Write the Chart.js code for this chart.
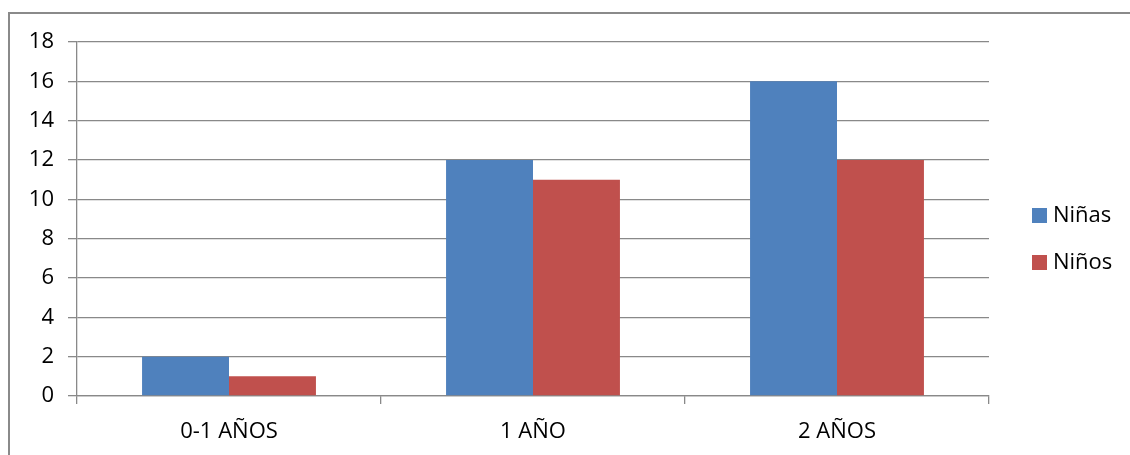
<!DOCTYPE html>
<html><head><meta charset="utf-8">
<script src="https://cdn.jsdelivr.net/npm/chart.js@4/dist/chart.umd.min.js"></script>
<style>
html,body{margin:0;padding:0;background:#fff;overflow:hidden;}
#wrap{position:absolute;left:0;top:0;width:1130px;height:455px;}
#frame{position:absolute;left:8px;top:12px;width:1200px;height:600px;border-left:2px solid #8a8a8a;border-top:2px solid #8a8a8a;box-sizing:border-box;}
canvas{position:absolute;left:0;top:0;}
</style></head>
<body>
<div id="wrap"><div id="frame"></div><canvas id="c" width="1130" height="455"></canvas></div>
<script>
const categories = ["0-1 AÑOS", "1 AÑO", "2 AÑOS"];
const ninas = [2, 12, 16];
const ninos = [1, 11, 12];
const seriesNames = ["Niñas", "Niños"];
const seriesColors = ["#4F81BD", "#C0504D"];
const FONT = "'Open Sans', Lato, sans-serif";
const gridColor = "#898989";

const legendPlugin = {
  id: 'sideLegend',
  afterDraw(chart) {
    const ctx = chart.ctx;
    const ys = [215, 262];
    ctx.save();
    ctx.font = "22px " + FONT;
    ctx.textBaseline = "middle";
    ctx.textAlign = "left";
    chart.data.datasets.forEach((ds, i) => {
      ctx.fillStyle = ds.backgroundColor;
      ctx.fillRect(1032, ys[i] - 7, 15, 15);
      ctx.fillStyle = "#000";
      ctx.fillText(ds.label, 1053, ys[i] + 1);
    });
    ctx.restore();
  }
};

new Chart(document.getElementById('c'), {
  type: 'bar',
  data: {
    labels: categories,
    datasets: [
      {label: seriesNames[0], data: ninas, backgroundColor: seriesColors[0]},
      {label: seriesNames[1], data: ninos, backgroundColor: seriesColors[1]}
    ]
  },
  options: {
    responsive: false,
    animation: false,
    devicePixelRatio: 1,
    layout: {padding: {left: 0, top: 42, right: 141, bottom: 0}},
    plugins: {legend: {display: false}, tooltip: {enabled: false}},
    datasets: {bar: {categoryPercentage: 0.572, barPercentage: 1.0, borderWidth: 0}},
    scales: {
      x: {
        offset: true,
        grid: {offset: true, drawOnChartArea: false, drawTicks: true, tickLength: 8, color: gridColor, lineWidth: 1.3},
        border: {display: true, color: gridColor, width: 1.3},
        ticks: {color: "#000", font: {family: FONT, size: 22}, padding: 15},
        afterFit(s) { s.height = 59; }
      },
      y: {
        min: 0, max: 18,
        ticks: {stepSize: 2, color: "#000", font: {family: FONT, size: 22}, padding: 14},
        grid: {color: gridColor, lineWidth: 1.3, drawTicks: true, tickLength: 9},
        border: {display: true, color: gridColor, width: 1.3},
        afterFit(s) { s.width = 77; }
      }
    }
  },
  plugins: [legendPlugin]
});
</script>
</body></html>
